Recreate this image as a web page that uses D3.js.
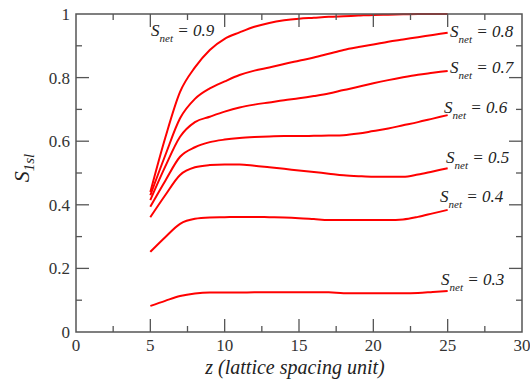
<!DOCTYPE html>
<html><head><meta charset="utf-8">
<script src="https://cdn.jsdelivr.net/npm/d3@7"></script>
<style>body{margin:0;background:#fff}svg{display:block}</style>
</head><body>
<script>
const zValues = [5,6,7,8,9,10,11,12,13,14,15,16,17,18,19,20,21,22,23,24,25];
const s09 = [0.44,0.61,0.755,0.832,0.887,0.922,0.942,0.960,0.972,0.980,0.985,0.988,0.991,0.993,0.995,0.997,0.998,0.999,1.0,1.0,1.0];
const s08 = [0.43,0.555,0.672,0.733,0.766,0.788,0.808,0.822,0.832,0.843,0.853,0.863,0.875,0.887,0.896,0.904,0.913,0.92,0.927,0.934,0.941];
const s07 = [0.415,0.52,0.614,0.66,0.677,0.693,0.706,0.715,0.722,0.729,0.735,0.742,0.75,0.761,0.771,0.782,0.792,0.801,0.809,0.815,0.821];
const s06 = [0.394,0.475,0.551,0.581,0.597,0.605,0.61,0.613,0.615,0.616,0.616,0.617,0.618,0.619,0.624,0.632,0.64,0.65,0.66,0.671,0.682];
const s05 = [0.361,0.43,0.494,0.518,0.525,0.527,0.527,0.523,0.518,0.513,0.508,0.503,0.498,0.493,0.49,0.488,0.488,0.488,0.495,0.505,0.515];
const s04 = [0.252,0.298,0.34,0.356,0.36,0.361,0.362,0.362,0.361,0.36,0.358,0.355,0.352,0.352,0.352,0.352,0.352,0.354,0.362,0.373,0.384];
const s03 = [0.082,0.098,0.113,0.121,0.124,0.124,0.124,0.125,0.125,0.125,0.125,0.125,0.125,0.122,0.122,0.122,0.122,0.122,0.123,0.126,0.129];
const seriesList = [s09,s08,s07,s06,s05,s04,s03];
const seriesNames = ["0.9","0.8","0.7","0.6","0.5","0.4","0.3"];
const xTicks = [0,5,10,15,20,25,30];
const yTicks = [0,0.2,0.4,0.6,0.8,1];
const yTickLabels = ["0","0.2","0.4","0.6","0.8","1"];

const W=530,H=387;
const L=76,R=522,T=14,B=332;
const x=d3.scaleLinear().domain([0,30]).range([L,R]);
const y=d3.scaleLinear().domain([0,1]).range([B,T]);
const svg=d3.select("body").append("svg").attr("width",W).attr("height",H);
const font="Liberation Serif, Tinos, DejaVu Serif, Times New Roman, serif";
const axisCol="#555";

// curves
const line=d3.line().x((d,i)=>x(zValues[i])).y(d=>y(d)).curve(d3.curveMonotoneX);
svg.append("g").selectAll("path").data(seriesList).join("path")
  .attr("d",line).attr("fill","none").attr("stroke","#ff0000").attr("stroke-width",2)
  .attr("stroke-linejoin","round");

// frame
svg.append("rect").attr("x",L).attr("y",T).attr("width",R-L).attr("height",B-T)
  .attr("fill","none").attr("stroke",axisCol).attr("stroke-width",1.5);

// axes with inward ticks
const majorLen=13, minorLen=6;
const xMinor=d3.range(2.5,30,5);
const yMinor=d3.range(0.1,1,0.2);
const g=svg.append("g").attr("stroke",axisCol).attr("stroke-width",1.3);
function xt(vals,len){
  vals.forEach(v=>{
    g.append("line").attr("x1",x(v)).attr("x2",x(v)).attr("y1",B).attr("y2",B-len);
    g.append("line").attr("x1",x(v)).attr("x2",x(v)).attr("y1",T).attr("y2",T+len);
  });
}
function yt(vals,len){
  vals.forEach(v=>{
    g.append("line").attr("y1",y(v)).attr("y2",y(v)).attr("x1",L).attr("x2",L+len);
    g.append("line").attr("y1",y(v)).attr("y2",y(v)).attr("x1",R).attr("x2",R-len);
  });
}
xt(xTicks.slice(1,-1),majorLen); xt(xMinor,minorLen);
yt(yTicks.slice(1,-1),majorLen); yt(yMinor,minorLen);

// tick labels
svg.append("g").selectAll("text").data(xTicks).join("text")
  .attr("x",d=>x(d)).attr("y",351).attr("text-anchor","middle")
  .style("font-family",font).attr("font-size",17).attr("fill","#333").text(d=>d);
svg.append("g").selectAll("text").data(yTicks).join("text")
  .attr("x",70).attr("y",d=>y(d)+6).attr("text-anchor","end")
  .style("font-family",font).attr("font-size",17).attr("fill","#333").text((d,i)=>yTickLabels[i]);

// axis titles
svg.append("text").attr("x",295).attr("y",374).attr("text-anchor","middle")
  .style("font-family",font).attr("font-style","italic").attr("font-size",20).attr("fill","#222")
  .text("z (lattice spacing unit)");
const yl=svg.append("text").attr("transform","translate(29,168) rotate(-90)").attr("text-anchor","middle")
  .style("font-family",font).attr("font-style","italic").attr("font-size",22).attr("fill","#222");
yl.append("tspan").text("S");
yl.append("tspan").attr("font-size",15).attr("dy",5).text("1sl");

// series labels
const labelPos=[[151,36],[450,37],[450,73],[444,113],[446,163],[440,202],[441,285]];
labelPos.forEach((p,i)=>{
  const t=svg.append("text").attr("x",p[0]).attr("y",p[1])
    .style("font-family",font).attr("font-style","italic").attr("font-size",17).attr("fill","#222");
  t.append("tspan").text("S");
  t.append("tspan").attr("font-size",11).attr("dy",6).text("net");
  t.append("tspan").attr("dy",-6).text(" = "+seriesNames[i]);
});
</script>
</body></html>
